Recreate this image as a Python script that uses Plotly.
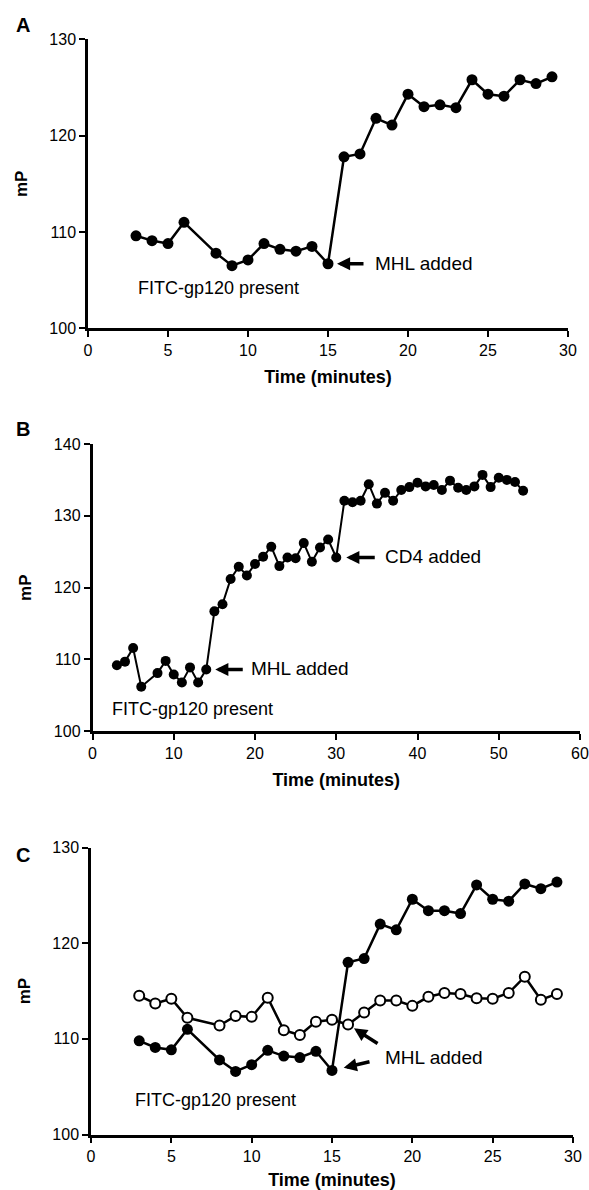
import plotly.graph_objects as go
from plotly.subplots import make_subplots

# ---------------- data ----------------
a_time = [3, 4, 5, 6, 8, 9, 10, 11, 12, 13, 14, 15, 16, 17, 18, 19, 20, 21, 22, 23, 24, 25, 26, 27, 28, 29]
a_mp = [109.6, 109.1, 108.8, 111.0, 107.8, 106.5, 107.1, 108.8, 108.2, 108.0, 108.5, 106.7,
        117.8, 118.1, 121.8, 121.1, 124.3, 123.0, 123.2, 122.9, 125.8, 124.3, 124.1, 125.8, 125.4, 126.1]

b_time = [3, 4, 5, 6, 8, 9, 10, 11, 12, 13, 14, 15, 16, 17, 18, 19, 20, 21, 22, 23, 24, 25, 26, 27, 28,
          29, 30, 31, 32, 33, 34, 35, 36, 37, 38, 39, 40, 41, 42, 43, 44, 45, 46, 47, 48, 49, 50, 51, 52, 53]
b_mp = [109.2, 109.7, 111.6, 106.2, 108.1, 109.8, 107.9, 106.8, 108.9, 106.8, 108.6,
        116.7, 117.7, 121.2, 122.9, 121.7, 123.3, 124.3, 125.7, 123.0, 124.2, 124.1, 126.2, 123.6, 125.6, 126.7, 124.2,
        132.1, 131.9, 132.1, 134.4, 131.7, 133.2, 132.1, 133.6, 134.0, 134.6, 134.1, 134.3, 133.6, 134.9,
        133.9, 133.6, 134.1, 135.7, 134.0, 135.3, 135.0, 134.7, 133.5]

c_time = [3, 4, 5, 6, 8, 9, 10, 11, 12, 13, 14, 15, 16, 17, 18, 19, 20, 21, 22, 23, 24, 25, 26, 27, 28, 29]
c_mp_filled = [109.8, 109.1, 108.85, 111.0, 107.8, 106.6, 107.3, 108.8, 108.2, 108.05, 108.7, 106.7,
               118.0, 118.4, 122.0, 121.4, 124.6, 123.4, 123.4, 123.1, 126.1, 124.6, 124.4, 126.2, 125.7, 126.4]
c_mp_open = [114.5, 113.7, 114.2, 112.2, 111.4, 112.4, 112.3, 114.3, 110.9, 110.4, 111.8, 112.0,
             111.5, 112.75, 114.0, 114.0, 113.45, 114.4, 114.8, 114.7, 114.25, 114.2, 114.8, 116.5, 114.1, 114.7]

a_xticks = [0, 5, 10, 15, 20, 25, 30]
b_xticks = [0, 10, 20, 30, 40, 50, 60]
a_yticks = [100, 110, 120, 130]
b_yticks = [100, 110, 120, 130, 140]

FONT = "Liberation Sans, Arial, Helvetica, sans-serif"
W, H = 589, 1190


def fx(px):
    return px / W


def fy(py):
    return 1 - py / H


fig = make_subplots(rows=3, cols=1)

fig.add_trace(go.Scatter(x=a_time, y=a_mp, mode="lines+markers",
                         line=dict(color="black", width=2.5),
                         marker=dict(color="black", size=11), showlegend=False), row=1, col=1)
fig.add_trace(go.Scatter(x=b_time, y=b_mp, mode="lines+markers",
                         line=dict(color="black", width=2),
                         marker=dict(color="black", size=10), showlegend=False), row=2, col=1)
fig.add_trace(go.Scatter(x=c_time, y=c_mp_filled, mode="lines+markers",
                         line=dict(color="black", width=2.5),
                         marker=dict(color="black", size=11), showlegend=False), row=3, col=1)
fig.add_trace(go.Scatter(x=c_time, y=c_mp_open, mode="lines+markers",
                         line=dict(color="black", width=2.5),
                         marker=dict(color="white", size=10, line=dict(color="black", width=2)),
                         showlegend=False), row=3, col=1)

# panel placement (pixel boxes in the window -> paper fractions)
boxes = {
    1: (88, 568, 39.3, 328.3),
    2: (92.5, 580, 444, 731.3),
    3: (91, 573, 847.6, 1134.5),
}
axis_common = dict(showline=True, linecolor="black", linewidth=2.5, ticks="outside", ticklen=6,
                   tickwidth=1.5, tickcolor="black", showgrid=False, zeroline=False,
                   ticklabeloverflow="allow",
                   tickfont=dict(family=FONT, size=16, color="black"), automargin=False)
for r, (x0, x1, y0, y1) in boxes.items():
    xk = "xaxis" if r == 1 else f"xaxis{r}"
    yk = "yaxis" if r == 1 else f"yaxis{r}"
    xr = [0, 60] if r == 2 else [0, 30]
    yr = [100, 140] if r == 2 else [100, 130]
    fig.layout[xk].update(domain=[fx(x0), fx(x1)], range=xr,
                          tickvals=b_xticks if r == 2 else a_xticks,
                          title=dict(text="<b>Time (minutes)</b>", standoff=13,
                                     font=dict(family=FONT, size=18, color="black")),
                          **axis_common)
    fig.layout[yk].update(domain=[fy(y1), fy(y0)], range=yr,
                          tickvals=b_yticks if r == 2 else a_yticks,
                          title=dict(text="<b>mP</b>", standoff=18,
                                     font=dict(family=FONT, size=17, color="black")),
                          **axis_common)


def text(xref, yref, x, y, s, size=18):
    fig.add_annotation(xref=xref, yref=yref, x=x, y=y, text=s, showarrow=False,
                       xanchor="left", yanchor="middle",
                       font=dict(family=FONT, size=size, color="black"))


def arrow(xref, yref, x, y, ax, ay, standoff):
    fig.add_annotation(xref=xref, yref=yref, x=x, y=y, ax=ax, ay=ay, text="",
                       showarrow=True, arrowhead=2, arrowwidth=3.5, arrowsize=0.75,
                       arrowcolor="black", standoff=standoff)


# Panel A
text("x", "y", 3.0, 104.2, "FITC-gp120 present")
text("x", "y", 17.8, 106.7, "MHL added", 19)
arrow("x", "y", 15, 106.7, 37, 0, 9)
# Panel B
text("x2", "y2", 2.2, 103.1, "FITC-gp120 present")
text("x2", "y2", 19.3, 108.8, "MHL added", 19)
text("x2", "y2", 35.7, 124.3, "CD4 added", 19)
arrow("x2", "y2", 14, 108.6, 38, 0, 9)
arrow("x2", "y2", 30, 124.2, 40, 0, 10)
# Panel C
text("x3", "y3", 2.6, 103.6, "FITC-gp120 present")
text("x3", "y3", 18.2, 108.05, "MHL added", 19)
arrow("x3", "y3", 15, 106.7, 39, -9, 12)
arrow("x3", "y3", 16, 111.5, 31, 20, 7)

# panel letters
for letter, ypx in (("A", 24.5), ("B", 429), ("C", 855)):
    fig.add_annotation(xref="paper", yref="paper", x=fx(23), y=fy(ypx), text=f"<b>{letter}</b>",
                       showarrow=False, xanchor="center", yanchor="middle",
                       font=dict(family=FONT, size=20, color="black"))

fig.update_layout(width=W, height=H, margin=dict(l=0, r=0, t=0, b=0),
                  paper_bgcolor="white", plot_bgcolor="white",
                  font=dict(family=FONT, color="black"))

fig.write_html("out.html", config={"displayModeBar": False},
               post_script="document.body.style.margin='0';document.body.style.overflow='hidden';")
